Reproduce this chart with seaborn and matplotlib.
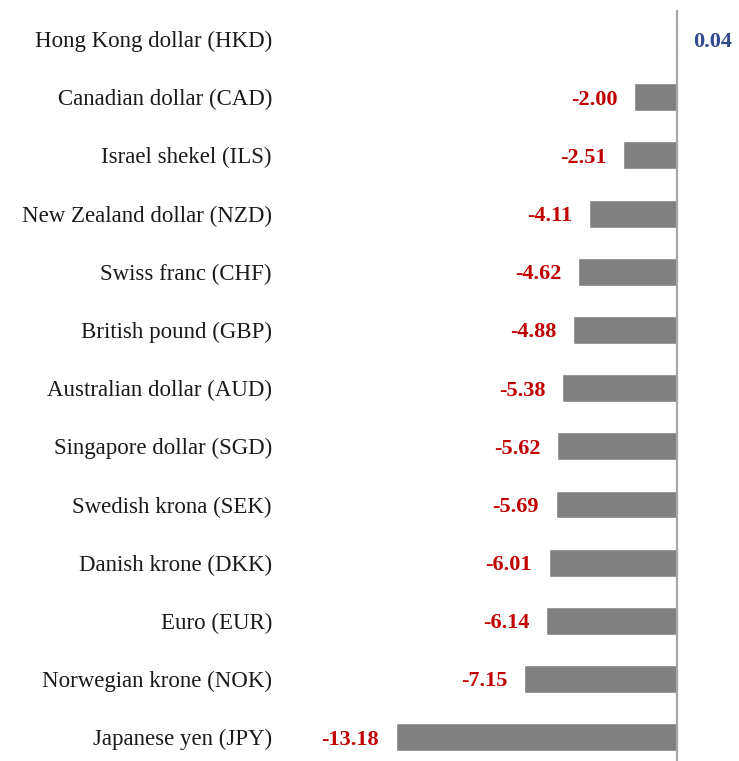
import numpy as np
import pandas as pd
import seaborn as sns
import matplotlib.pyplot as plt

currencies = [
    "Hong Kong dollar (HKD)",
    "Canadian dollar (CAD)",
    "Israel shekel (ILS)",
    "New Zealand dollar (NZD)",
    "Swiss franc (CHF)",
    "British pound (GBP)",
    "Australian dollar (AUD)",
    "Singapore dollar (SGD)",
    "Swedish krona (SEK)",
    "Danish krone (DKK)",
    "Euro (EUR)",
    "Norwegian krone (NOK)",
    "Japanese yen (JPY)",
]
changes = [0.04, -2.00, -2.51, -4.11, -4.62, -4.88, -5.38, -5.62, -5.69, -6.01, -6.14, -7.15, -13.18]

df = pd.DataFrame({"currency": currencies, "change": changes})

sns.set_style("white")
plt.rcParams["font.family"] = ["Liberation Serif", "DejaVu Serif"]

fig = plt.figure(figsize=(7.39, 7.61), dpi=100)
W, H = 739, 761
# axes box in pixels: left 290, right 739, top 10, bottom 761
ax = fig.add_axes([290 / W, 0, 449 / W, 751 / H])

sns.barplot(data=df, x="change", y="currency", orient="h", color="#808080",
            saturation=1, width=0.48, ax=ax)

ax.set_xlim(-18.13, 2.9)
ax.set_ylim(12.41, -0.5)
ax.axvline(0, color="#A6A6A6", lw=1.6, zorder=3)

for i, v in enumerate(changes):
    if v < 0:
        ax.annotate(f"{v:.2f}", (v, i), xytext=(-12, 0), textcoords="offset points",
                    ha="right", va="center_baseline", fontsize=16, fontweight="bold",
                    color="#C00000")
    else:
        ax.annotate(f"{v:.2f}", (v, i), xytext=(11, 0), textcoords="offset points",
                    ha="left", va="center_baseline", fontsize=16, fontweight="bold",
                    color="#2F4A8C")

ax.set_xlabel("")
ax.set_ylabel("")
ax.set_xticks([])
ax.tick_params(axis="y", length=0, pad=13, labelsize=16.5, labelcolor="#1a1a1a")
for lab in ax.get_yticklabels():
    lab.set_verticalalignment("center_baseline")
sns.despine(ax=ax, left=True, bottom=True)

fig.savefig("out.png", dpi=100)
